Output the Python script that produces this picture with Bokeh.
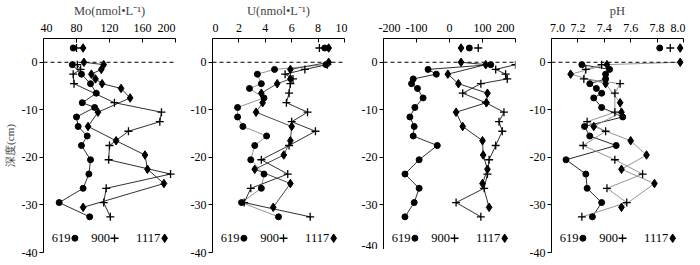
from bokeh.plotting import figure
from bokeh.layouts import row
from bokeh.models import Range1d, FixedTicker, Span, Label
from bokeh.embed import file_html
from bokeh.resources import INLINE
from bokeh.core.properties import value

FONT = "Liberation Serif"

# ---------------- data ----------------
stations = ["619", "900", "1117"]
depth_ticks = [-40, -30, -20, -10, 0]
depth_tick_labels = ["-40", "-30", "-20", "-10", "0"]
overlying_depth = 3  # overlying-water samples plotted above the interface

# Mo (nmol/L)
mo_ticks = [40, 80, 120, 160, 200]
mo_tick_labels = ["40", "80", "120", "160", "200"]
mo_top = [76, 80, 88]
mo_619_d = [-0.5, -2.5, -4.5, -6.5, -8.5, -9.5, -11.5, -13.5, -15.5, -17.5, -20.5, -23.5, -26.5, -29.5, -32.5]
mo_619_v = [75, 86, 97, 104, 87, 102, 80, 82, 93, 86, 97, 95, 88, 59, 96]
mo_900_d = [-0.5, -1.5, -2.5, -4.5, -8.5, -10.5, -12.5, -14.5, -17.5, -20.5, -23.5, -26.5, -29.5, -32.5]
mo_900_v = [81, 85, 76, 77, 126, 183, 181, 143, 120, 119, 194, 116, 113, 121]
mo_1117_d = [0, -0.5, -1.5, -2.5, -3.5, -4.5, -5.5, -7.5, -10.5, -13.5, -16.5, -19.5, -22.5, -25.5, -30.5]
mo_1117_v = [89, 113, 110, 98, 103, 111, 134, 145, 106, 94, 128, 163, 166, 186, 88]

# U (nmol/L)
u_ticks = [0, 2, 4, 6, 8, 10]
u_tick_labels = ["0", "2", "4", "6", "8", "10"]
u_top = [8.5, 8.1, 8.8]
u_619_d = [-0.5, -1.5, -2.5, -4.5, -5.5, -7.5, -9.5, -11.5, -13.5, -15.5, -17.5, -20.5, -23.5, -26.5, -29.5, -32.5]
u_619_v = [8.6, 4.7, 3.4, 3.7, 2.8, 3.9, 1.9, 1.9, 2.3, 4.1, 3.2, 2.9, 3.9, 3.7, 2.2, 5.0]
u_900_d = [-0.5, -1.5, -2.5, -3.5, -4.5, -6.5, -8.5, -10.5, -12.5, -14.5, -17.5, -20.5, -23.5, -26.5, -29.5, -32.5]
u_900_v = [8.7, 7.0, 5.5, 6.1, 5.9, 5.8, 5.6, 7.2, 6.0, 7.8, 5.8, 3.7, 5.7, 2.9, 2.4, 7.4]
u_1117_d = [0, -1.5, -3.5, -4.5, -6.5, -8.5, -10.5, -13.5, -16.5, -19.5, -22.5, -25.5, -30.5]
u_1117_v = [8.8, 5.9, 5.9, 4.9, 3.7, 3.8, 3.3, 6.0, 5.9, 5.4, 3.2, 5.9, 4.6]

# Eh (mV)
eh_ticks = [-200, -100, 0, 100, 200]
eh_tick_labels = ["-200", "-100", "0", "100", "200"]
eh_top = [60, 87, 35]
eh_619_d = [-0.5, -1.5, -2.5, -3.5, -4.5, -5.5, -7.5, -9.5, -11.5, -13.5, -15.5, -17.5, -20.5, -23.5, -26.5, -29.5, -32.5]
eh_619_v = [125, -65, -40, -110, -115, -97, -80, -105, -120, -107, -110, -37, -92, -135, -92, -107, -135]
eh_900_d = [-0.5, -1.5, -2.5, -3.5, -4.5, -6.5, -8.5, -10.5, -12.5, -14.5, -17.5, -20.5, -23.5, -26.5, -29.5, -32.5]
eh_900_v = [200, 140, 170, 175, 95, 40, 110, 165, 150, 160, 140, 120, 115, 105, 20, 95]
eh_1117_d = [0, -0.5, -2.5, -4.5, -6.5, -8.5, -10.5, -13.5, -16.5, -19.5, -22.5, -25.5, -30.5]
eh_1117_v = [35, 110, -5, 27, 115, 112, 20, 40, 100, 102, 115, 100, 120]

# pH
ph_ticks = [7.0, 7.2, 7.4, 7.6, 7.8, 8.0]
ph_tick_labels = ["7.0", "7.2", "7.4", "7.6", "7.8", "8.0"]
ph_top = [7.82, 7.90, 7.975]
ph_619_d = [-0.5, -1.5, -2.5, -3.5, -4.5, -5.5, -6.5, -7.5, -9.5, -11.5, -13.5, -15.5, -17.5, -20.5, -23.5, -26.5, -29.5, -32.5]
ph_619_v = [7.23, 7.44, 7.41, 7.41, 7.29, 7.34, 7.38, 7.32, 7.38, 7.54, 7.25, 7.29, 7.49, 7.11, 7.26, 7.27, 7.38, 7.31]
ph_900_d = [-0.5, -1.5, -3.5, -4.5, -6.5, -10.5, -12.5, -14.5, -17.5, -20.5, -23.5, -26.5, -29.5, -32.5]
ph_900_v = [7.38, 7.26, 7.245, 7.52, 7.48, 7.48, 7.27, 7.41, 7.24, 7.48, 7.69, 7.42, 7.57, 7.23]
ph_1117_d = [0, -0.5, -2.5, -4.5, -8.5, -10.5, -13.5, -16.5, -19.5, -22.5, -25.5, -30.5]
ph_1117_v = [7.975, 7.42, 7.145, 7.41, 7.52, 7.53, 7.32, 7.6, 7.72, 7.53, 7.78, 7.53]

# ---------------- styling ----------------
FRAME_W = 132
FRAME_H = 214
MARKERS = [dict(marker="circle", size=6),
           dict(marker="cross", size=8, line_width=1.3),
           dict(marker="diamond", size=8.5)]
LEG_FRAC = [0.238, 0.538, 0.918]
PAD = "\u2007"


def make_panel(title, lo, hi, ticks, tick_labels, top_vals, series, line_colors,
               bl, br, ylabel=None, pad_first=1, pad_last=1):
    p = figure(frame_width=FRAME_W, frame_height=FRAME_H, x_range=Range1d(lo, hi),
               y_range=Range1d(-40, 5), x_axis_location="above",
               output_backend="svg", toolbar_location=None,
               min_border_left=bl, min_border_right=br, min_border_top=28,
               min_border_bottom=7)
    p.outline_line_color = None
    p.grid.visible = False
    p.background_fill_color = "white"
    p.border_fill_color = "white"

    labels = list(tick_labels)
    labels[0] = PAD * pad_first + labels[0]
    labels[-1] = labels[-1] + PAD * pad_last
    xa = p.xaxis[0]
    xa.ticker = FixedTicker(ticks=ticks)
    xa.major_label_overrides = {t: l for t, l in zip(ticks, labels)}
    xa.major_tick_in = 4
    xa.major_tick_out = 0
    xa.minor_tick_line_color = None
    xa.major_label_standoff = 4
    xa.major_label_text_font = FONT
    xa.major_label_text_font_size = "12px"
    xa.major_label_text_color = "black"
    xa.axis_label = title
    xa.axis_label_standoff = 0
    xa.axis_label_text_font = FONT
    xa.axis_label_text_font_size = "12.5px"
    xa.axis_label_text_font_style = "normal"
    xa.axis_line_color = "black"
    xa.major_tick_line_color = "black"

    ya = p.yaxis[0]
    ya.ticker = FixedTicker(ticks=depth_ticks)
    ya.major_label_overrides = {t: l for t, l in zip(depth_ticks, depth_tick_labels)}
    ya.major_tick_in = 0
    ya.major_tick_out = 4
    ya.minor_tick_line_color = None
    ya.major_label_standoff = 2
    ya.major_label_text_font = FONT
    ya.major_label_text_font_size = "12px"
    ya.major_label_text_color = "black"
    ya.axis_line_color = "black"
    ya.major_tick_line_color = "black"
    if ylabel:
        ya.axis_label = ylabel
        ya.axis_label_standoff = 3
        ya.axis_label_text_font = FONT
        ya.axis_label_text_font_size = "11px"
        ya.axis_label_text_font_style = "normal"

    p.add_layout(Span(location=0, dimension="width", line_color="black",
                      line_width=1, line_dash="4 3"))

    for (d, v), col in zip(series, line_colors):
        p.line(v, d, line_color=col, line_width=0.9)
    for (d, v), m in zip(series, MARKERS):
        p.scatter(v, d, color="black", **m)
    # overlying water samples
    for tv, m in zip(top_vals, MARKERS):
        p.scatter([tv], [overlying_depth], color="black", **m)

    # legend row at the bottom of each panel
    span = hi - lo
    text_gap = 4.5 / FRAME_W
    p.text(x=[lo + (f - text_gap) * span for f in LEG_FRAC], y=[-37] * 3,
           text=stations, text_align="right", text_baseline="middle",
           text_font=value(FONT), text_font_size="12.5px", text_color="black")
    for f, m in zip(LEG_FRAC, MARKERS):
        p.scatter([lo + f * span], [-37], color="black", **m)
    return p


p1 = make_panel("Mo(nmol\u2022L\u207b\u00b9)", 40, 200, mo_ticks, mo_tick_labels, mo_top,
                [(mo_619_d, mo_619_v), (mo_900_d, mo_900_v), (mo_1117_d, mo_1117_v)],
                ["#1a1a1a", "#1a1a1a", "#1a1a1a"], 37, 12, ylabel="深度(cm)",
                pad_first=1, pad_last=2)
p2 = make_panel("U(nmol\u2022L\u207b\u00b9)", 0, 10, u_ticks, u_tick_labels, u_top,
                [(u_619_d, u_619_v), (u_900_d, u_900_v), (u_1117_d, u_1117_v)],
                ["#8a8a8a", "#1a1a1a", "#333333"], 25, 12, pad_first=1, pad_last=1)
p3 = make_panel("", -200, 200, eh_ticks, eh_tick_labels, eh_top,
                [(eh_619_d, eh_619_v), (eh_900_d, eh_900_v), (eh_1117_d, eh_1117_v)],
                ["#1a1a1a", "#1a1a1a", "#1a1a1a"], 27, 11, pad_first=2, pad_last=2)
p4 = make_panel("pH", 7.0, 8.0, ph_ticks, ph_tick_labels, ph_top,
                [(ph_619_d, ph_619_v), (ph_900_d, ph_900_v), (ph_1117_d, ph_1117_v)],
                ["#111111", "#8a8a8a", "#8a8a8a"], 24, 8, pad_first=2, pad_last=1)

# Eh title with italic "Eh"
p3.add_layout(Label(x=0, y=5, y_offset=21, text="Eh", text_align="right",
                    text_baseline="middle", text_font=FONT, text_font_size="12.5px",
                    text_font_style="italic", text_color="black"))
p3.add_layout(Label(x=0, y=5, y_offset=21, text="(mV)", text_align="left",
                    text_baseline="middle", text_font=FONT, text_font_size="12.5px",
                    text_color="black"))

layout = row(p1, p2, p3, p4)
open("out.html", "w").write(file_html(layout, INLINE))
